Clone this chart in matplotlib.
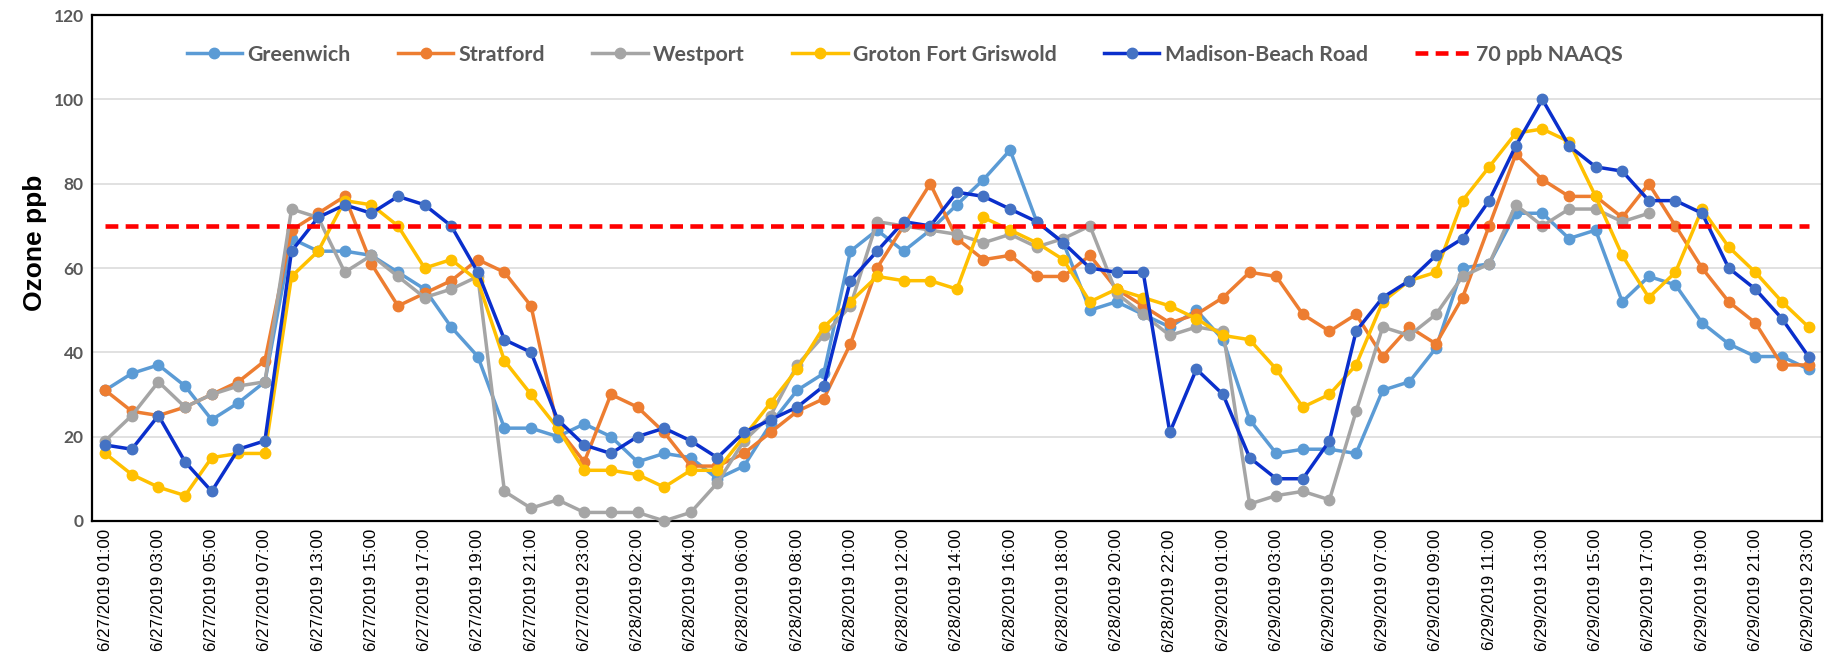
import numpy as np
import matplotlib.pyplot as plt

# hourly categories present in the data (gaps where the monitors had no data)
hours_0627 = [1, 2, 3, 4, 5, 6, 7, 12, 13, 14, 15, 16, 17, 18, 19, 20, 21, 22, 23]
hours_0628 = [0, 2, 3, 4, 5, 6, 7, 8, 9, 10, 11, 12, 13, 14, 15, 16, 17, 18, 19, 20, 21, 22, 23]
hours_0629 = [1, 2, 3, 4, 5, 6, 7, 8, 9, 10, 11, 12, 13, 14, 15, 16, 17, 18, 19, 20, 21, 22, 23]

labels = (["6/27/2019 %02d:00" % h for h in hours_0627]
          + ["6/28/2019 %02d:00" % h for h in hours_0628]
          + ["6/29/2019 %02d:00" % h for h in hours_0629])

greenwich = [31, 35, 37, 32, 24, 28, 33, 67, 64, 64, 63, 59, 55, 46, 39, 22, 22, 20, 23, 20,
             14, 16, 15, 10, 13, 23, 31, 35, 64, 69, 64, 69, 75, 81, 88, 71, 66, 50, 52, 49, 46, 50,
             43, 24, 16, 17, 17, 16, 31, 33, 41, 60, 61, 73, 73, 67, 69, 52, 58, 56, 47, 42, 39, 39, 36]
stratford = [31, 26, 25, 27, 30, 33, 38, 69, 73, 77, 61, 51, 54, 57, 62, 59, 51, 22, 14, 30,
             27, 21, 13, 13, 16, 21, 26, 29, 42, 60, 70, 80, 67, 62, 63, 58, 58, 63, 55, 51, 47, 49,
             53, 59, 58, 49, 45, 49, 39, 46, 42, 53, 70, 87, 81, 77, 77, 72, 80, 70, 60, 52, 47, 37, 37]
westport = [19, 25, 33, 27, 30, 32, 33, 74, 72, 59, 63, 58, 53, 55, 58, 7, 3, 5, 2, 2,
            2, 0, 2, 9, 19, 25, 37, 44, 51, 71, 70, 69, 68, 66, 68, 65, 67, 70, 54, 49, 44, 46,
            45, 4, 6, 7, 5, 26, 46, 44, 49, 58, 61, 75, 70, 74, 74, 71, 73,
            None, None, None, None, None, None]
groton = [16, 11, 8, 6, 15, 16, 16, 58, 64, 76, 75, 70, 60, 62, 57, 38, 30, 22, 12, 12,
          11, 8, 12, 12, 20, 28, 36, 46, 52, 58, 57, 57, 55, 72, 69, 66, 62, 52, 55, 53, 51, 48,
          44, 43, 36, 27, 30, 37, 52, 57, 59, 76, 84, 92, 93, 90, 77, 63, 53, 59, 74, 65, 59, 52, 46]
madison = [18, 17, 25, 14, 7, 17, 19, 64, 72, 75, 73, 77, 75, 70, 59, 43, 40, 24, 18, 16,
           20, 22, 19, 15, 21, 24, 27, 32, 57, 64, 71, 70, 78, 77, 74, 71, 66, 60, 59, 59, 21, 36,
           30, 15, 10, 10, 19, 45, 53, 57, 63, 67, 76, 89, 100, 89, 84, 83, 76, 76, 73, 60, 55, 48, 39]
naaqs = 70

series = [
    ("Greenwich", greenwich, "#5B9BD5", "#5B9BD5"),
    ("Stratford", stratford, "#ED7D31", "#ED7D31"),
    ("Westport", westport, "#A5A5A5", "#A5A5A5"),
    ("Groton Fort Griswold", groton, "#FFC000", "#FFC000"),
    ("Madison-Beach Road", madison, "#0A2FCC", "#4472C4"),
]

fig, ax = plt.subplots(figsize=(18.31, 6.61), dpi=100)
fig.subplots_adjust(left=0.0502, right=0.995, top=0.977, bottom=0.212)

x = np.arange(len(labels))
for name, vals, lc, mc in series:
    y = np.array([np.nan if v is None else v for v in vals], dtype=float)
    ax.plot(x, y, color=lc, lw=2.5, marker="o", ms=7.5, mfc=mc, mec=mc,
            label=name, clip_on=False, zorder=3)
ax.plot(x, [naaqs] * len(x), color="#FF0000", lw=3.3, ls=(0, (2.8, 1.6)),
        label="70 ppb NAAQS", zorder=4)

ax.set_xlim(-0.5, len(labels) - 0.5)
ax.set_ylim(0, 120)
ax.set_yticks(np.arange(0, 121, 20))
ax.yaxis.grid(True, color="#D9D9D9", lw=1.1)
ax.set_axisbelow(True)

ax.set_xticks(x[::2])
ax.set_xticklabels(labels[::2], rotation=90, fontsize=12.2,
                   family="Liberation Sans", color="black")
ax.tick_params(axis="x", length=0, pad=6)
ax.tick_params(axis="y", length=0, pad=6, labelsize=12.5, labelcolor="#595959")
for t in ax.get_yticklabels():
    t.set_fontweight("bold")
    t.set_family("Lato")

for s in ax.spines.values():
    s.set_color("black")
    s.set_linewidth(1.6)

ax.set_ylabel("Ozone ppb", fontsize=19, fontweight="bold", family="Liberation Sans")
ax.yaxis.set_label_coords(-0.026, 0.55)

ax.legend(loc="center", bbox_to_anchor=(0.494, 0.917), bbox_transform=fig.transFigure,
          ncol=6, frameon=False, numpoints=1, handlelength=2.6, handletextpad=0.25,
          columnspacing=2.2, labelcolor="#595959",
          prop={"family": "Lato", "weight": "bold", "size": 15.4})

fig.savefig("out.png", dpi=100, facecolor="white")
